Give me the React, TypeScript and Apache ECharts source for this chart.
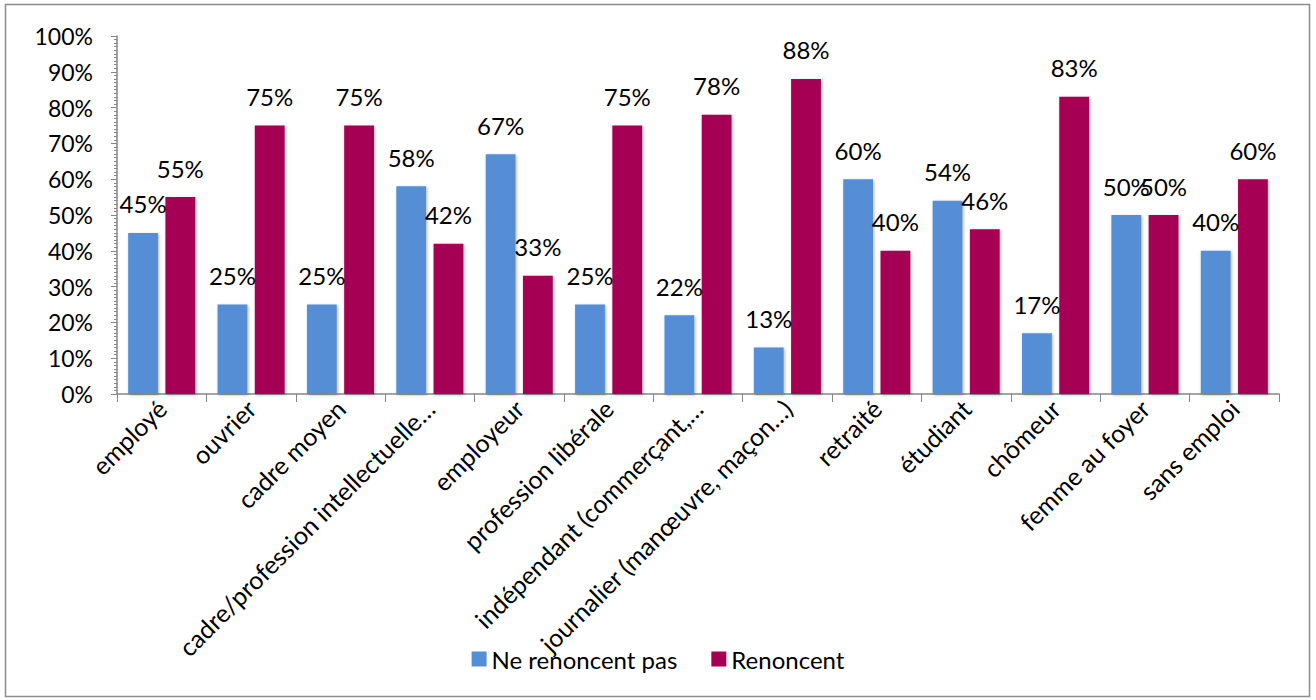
import React, { useEffect, useRef } from "react";
import * as echarts from "echarts";

const categories = [
  "employé",
  "ouvrier",
  "cadre moyen",
  "cadre/profession intellectuelle…",
  "employeur",
  "profession libérale",
  "indépendant (commerçant,…",
  "journalier (manœuvre, maçon…)",
  "retraité",
  "étudiant",
  "chômeur",
  "femme au foyer",
  "sans emploi",
];
const neRenoncentPas = [45, 25, 25, 58, 67, 25, 22, 13, 60, 54, 17, 50, 40];
const renoncent = [55, 75, 75, 42, 33, 75, 78, 88, 40, 46, 83, 50, 60];
const seriesNames = ["Ne renoncent pas", "Renoncent"];
const yTicks = { min: 0, max: 100, interval: 10 };

const FONT = "Lato";

export default function App() {
  const ref = useRef<HTMLDivElement>(null);
  useEffect(() => {
    if (!ref.current) return;
    const chart = echarts.init(ref.current, undefined, { renderer: "svg" });
    const labelStyle = {
      show: true,
      position: "top" as const,
      distance: 17,
      formatter: (p: any) => p.value + "%",
      color: "#000",
      fontFamily: FONT,
      fontSize: 24,
    };
    const shadow = {
      shadowColor: "rgba(0,0,0,0.3)",
      shadowBlur: 3,
      shadowOffsetX: 1,
      shadowOffsetY: 1,
    };
    chart.setOption({
      animation: false,
      backgroundColor: "#fff",
      textStyle: { fontFamily: FONT },
      graphic: [
        {
          type: "rect",
          shape: { x: 5.5, y: 4.5, width: 1304, height: 692 },
          style: { fill: "none", stroke: "#8c8c8c", lineWidth: 1.5 },
          silent: true,
        },
      ],
      grid: { left: 117, right: 37, top: 36, bottom: 306, containLabel: false },
      legend: {
        bottom: 24,
        left: "center",
        itemWidth: 15,
        itemHeight: 15,
        itemGap: 34,
        icon: "rect",
        textStyle: { fontFamily: FONT, fontSize: 24, color: "#000" },
        data: seriesNames,
      },
      xAxis: {
        type: "category",
        data: categories,
        axisLine: { lineStyle: { color: "#868686", width: 1.5 } },
        axisTick: { show: true, length: 8, lineStyle: { color: "#868686" } },
        axisLabel: {
          rotate: 45,
          interval: 0,
          margin: 10,
          color: "#000",
          fontFamily: FONT,
          fontSize: 25,
        },
      },
      yAxis: {
        type: "value",
        min: yTicks.min,
        max: yTicks.max,
        interval: yTicks.interval,
        axisLine: { show: true, lineStyle: { color: "#868686", width: 1.5 } },
        axisTick: { show: true, length: 6, lineStyle: { color: "#868686" } },
        minorTick: { show: true, splitNumber: 10, length: 3, lineStyle: { color: "#868686" } },
        splitLine: { show: false },
        axisLabel: {
          formatter: (v: number) => v + "%",
          color: "#000",
          fontFamily: FONT,
          fontSize: 23,
          margin: 24,
        },
      },
      series: [
        {
          name: seriesNames[0],
          type: "bar",
          data: neRenoncentPas,
          itemStyle: { color: "#558ED5", ...shadow },
          label: labelStyle,
          barGap: "25%",
          barCategoryGap: "25%",
        },
        {
          name: seriesNames[1],
          type: "bar",
          data: renoncent,
          itemStyle: { color: "#A50052", ...shadow },
          label: labelStyle,
        },
      ],
    });
    return () => chart.dispose();
  }, []);
  return (
    <div
      ref={ref}
      style={{ position: "fixed", left: 0, top: 0, width: 1316, height: 700 }}
    />
  );
}
